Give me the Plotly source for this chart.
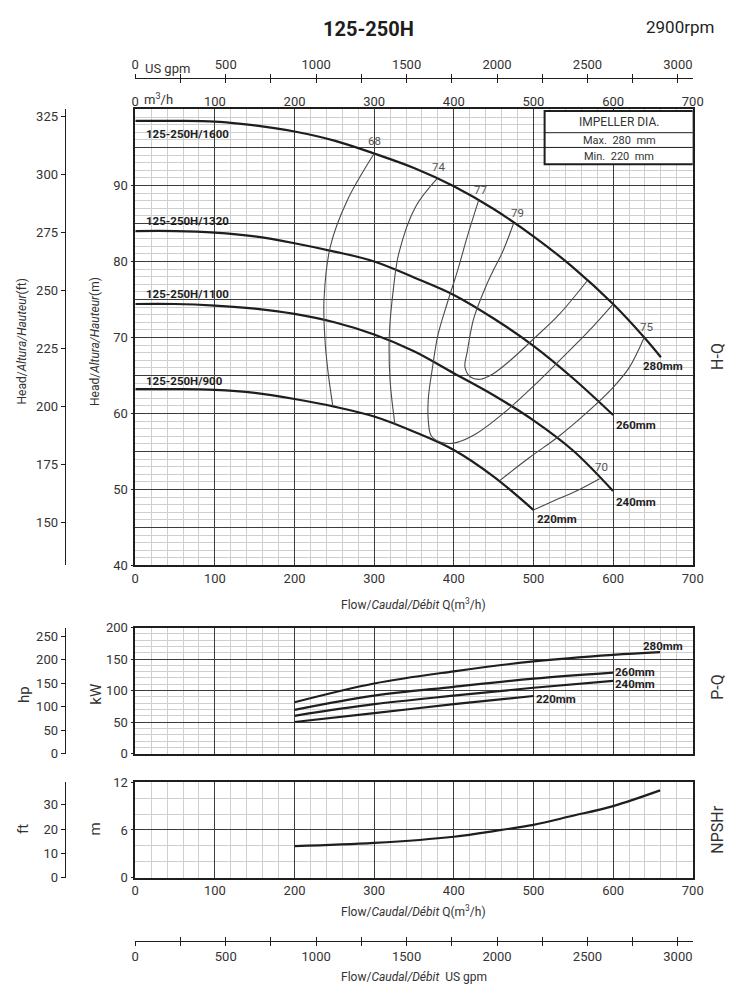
import plotly.graph_objects as go

W, H = 739, 1000
M2FT = 3.28084
KW2HP = 1.34102
M3H2GPM = 4.40287

# H-Q curves, flow in m3/h, head in m
q_280 = [0, 50, 100, 150, 200, 250, 300, 350, 400, 450, 500, 550, 600, 640, 660]
h_280 = [98.5, 98.5, 98.4, 97.9, 97.1, 95.9, 94.2, 92.3, 89.9, 86.9, 83.3, 79.2, 74.4, 69.9, 67.4]
q_260 = [0, 50, 100, 150, 200, 250, 300, 350, 400, 450, 500, 550, 600]
h_260 = [84.0, 84.0, 83.8, 83.3, 82.4, 81.3, 80.0, 77.9, 75.6, 72.5, 68.9, 64.6, 59.8]
q_240 = [0, 50, 100, 150, 200, 250, 300, 350, 400, 450, 500, 550, 600]
h_240 = [74.4, 74.4, 74.2, 73.8, 73.1, 72.0, 70.4, 68.2, 65.3, 62.4, 59.1, 55.1, 49.8]
q_220 = [0, 50, 100, 150, 200, 250, 300, 350, 400, 450, 500]
h_220 = [63.2, 63.2, 63.1, 62.7, 61.9, 60.9, 59.6, 57.6, 55.2, 51.7, 47.3]

# iso-efficiency lines
q_e68 = [300, 266, 245, 237, 238, 242, 248]
h_e68 = [94.2, 88.0, 82.0, 75.0, 70.0, 65.5, 61.0]
q_e74 = [379, 352, 331, 324, 319, 320, 326]
h_e74 = [90.9, 87.2, 81.1, 76.3, 70.3, 64.3, 58.6]
q_e77 = [431, 417, 405, 392, 380, 373, 368, 368, 372, 388, 404, 429, 462, 499, 532, 569, 600]
h_e77 = [88.0, 83.3, 78.9, 74.6, 70.3, 65.9, 62.0, 59.0, 57.0, 56.1, 56.2, 57.4, 60.0, 63.5, 66.9, 70.8, 74.4]
q_e79 = [475, 461, 450, 441, 425, 417, 414, 421, 433, 449, 470, 499, 532, 567]
h_e79 = [85.0, 81.2, 78.9, 76.9, 72.5, 68.2, 66.1, 64.8, 64.5, 65.2, 66.9, 69.7, 73.0, 77.4]
q_e75 = [458, 495, 532, 568, 598, 620, 639]
h_e75 = [51.2, 54.2, 57.0, 60.2, 63.2, 66.0, 70.0]
q_e70 = [500, 532, 556, 583]
h_e70 = [47.3, 48.8, 49.9, 51.4]

# P-Q curves, kW
q_p280 = [200, 300, 400, 500, 600, 659]
p_280 = [81.5, 111.3, 130.6, 146.3, 156.7, 161.0]
q_p260 = [200, 300, 400, 500, 600]
p_260 = [69.5, 92.0, 106.0, 119.0, 128.5]
q_p240 = [200, 300, 400, 500, 600]
p_240 = [60.0, 78.4, 92.0, 104.5, 115.5]
q_p220 = [200, 300, 400, 500]
p_220 = [50.2, 64.3, 78.4, 91.4]

# NPSHr, m
q_npsh = [200, 300, 400, 458, 500, 548, 600, 659]
npsh = [3.96, 4.37, 5.15, 5.98, 6.64, 7.75, 9.0, 10.97]

flow_ticks = [0, 100, 200, 300, 400, 500, 600, 700]
gpm_labels = [0, 500, 1000, 1500, 2000, 2500, 3000]
gpm_minor = list(range(0, 3001, 250))

FONT = 'Liberation Sans Narrow, Roboto, sans-serif'
INK = '#1e1e1e'
TXT = '#333333'
MAJOR = '#3c3c3c'
MINOR = '#cfcfcf'


def px(x):
    return x / W


def py(y):
    return 1 - y / H


X_DOM = [px(134), px(703)]

fig = go.Figure()

for q, h in [(q_280, h_280), (q_260, h_260), (q_240, h_240), (q_220, h_220)]:
    fig.add_trace(go.Scatter(x=q, y=h, mode='lines', xaxis='x', yaxis='y',
                             line=dict(color=INK, width=2.2, shape='spline'),
                             hoverinfo='skip', showlegend=False))

for q, h in [(q_e68, h_e68), (q_e74, h_e74), (q_e77, h_e77),
             (q_e79, h_e79), (q_e75, h_e75), (q_e70, h_e70)]:
    fig.add_trace(go.Scatter(x=q, y=h, mode='lines', xaxis='x', yaxis='y',
                             line=dict(color='#4a4a4a', width=1.1, shape='spline'),
                             hoverinfo='skip', showlegend=False))

for q, p in [(q_p280, p_280), (q_p260, p_260), (q_p240, p_240), (q_p220, p_220)]:
    fig.add_trace(go.Scatter(x=q, y=p, mode='lines', xaxis='x5', yaxis='y3',
                             line=dict(color=INK, width=2.2, shape='spline'),
                             hoverinfo='skip', showlegend=False))

fig.add_trace(go.Scatter(x=q_npsh, y=npsh, mode='lines', xaxis='x6', yaxis='y5',
                         line=dict(color=INK, width=2.2, shape='spline'),
                         hoverinfo='skip', showlegend=False))

# empty traces so that the extra scale axes get drawn
for xa, ya in [('x', 'y2'), ('x', 'y7'), ('x2', 'y'), ('x3', 'y'), ('x4', 'y'), ('x9', 'y'),
               ('x5', 'y4'), ('x6', 'y6'), ('x7', 'y5'), ('x8', 'y5'), ('x10', 'y5')]:
    fig.add_trace(go.Scatter(x=[], y=[], xaxis=xa, yaxis=ya, mode='lines',
                             hoverinfo='skip', showlegend=False))

tickfont = dict(family=FONT, size=13, color=TXT)


def grid_x(**kw):
    d = dict(domain=X_DOM, range=[0, 700], tickmode='linear', tick0=0, dtick=100,
             showgrid=True, gridcolor=MAJOR, gridwidth=1,
             minor=dict(tick0=0, dtick=20, showgrid=True, gridcolor=MINOR, gridwidth=1),
             showline=True, linecolor=INK, linewidth=1.5, mirror=True,
             zeroline=False, ticks='', tickfont=tickfont, fixedrange=True)
    d.update(kw)
    return d


def grid_y(**kw):
    d = dict(showgrid=True, gridcolor=MAJOR, gridwidth=1,
             showline=True, linecolor=INK, linewidth=1.5, mirror=True,
             zeroline=False, ticks='outside', ticklen=3, tickcolor=INK,
             tickfont=tickfont, fixedrange=True)
    d.update(kw)
    return d


def side_axis(**kw):
    d = dict(anchor='free', position=px(62), side='left',
             showgrid=False, zeroline=False, showline=True, linecolor=INK, linewidth=1.2,
             ticks='outside', ticklen=4, tickcolor=INK, tickfont=tickfont, fixedrange=True)
    d.update(kw)
    return d


def gpm_axis(vals, ticks, labels, line, **kw):
    d = dict(anchor='free', range=[0, 700 * M3H2GPM], tickmode='array', tickvals=vals,
             showgrid=False, zeroline=False, showline=line, linecolor=INK, linewidth=1.2,
             ticks=ticks, ticklen=4, tickcolor=INK, showticklabels=labels,
             tickfont=tickfont, fixedrange=True)
    d.update(kw)
    return d


fig.update_layout(
    width=W, height=H,
    margin=dict(l=0, r=0, t=0, b=0),
    paper_bgcolor='white', plot_bgcolor='white',
    font=dict(family=FONT, color=TXT),
    showlegend=False,
    # H-Q
    xaxis=grid_x(anchor='y'),
    yaxis=grid_y(domain=[py(567), py(104)], range=[40, 100], anchor='x',
                 tickmode='array', tickvals=list(range(40, 91, 10)),
                 minor=dict(tick0=0, dtick=1, showgrid=True, gridcolor=MINOR)),
    yaxis7=dict(overlaying='y', anchor='x', range=[40, 100], tickmode='array',
                tickvals=list(range(45, 96, 10)), showgrid=True, gridcolor=MAJOR,
                showticklabels=False, ticks='', showline=False, zeroline=False,
                fixedrange=True),
    yaxis2=side_axis(overlaying='y', range=[40 * M2FT, 100 * M2FT],
                     tickmode='array', tickvals=list(range(150, 326, 25))),
    xaxis2=dict(overlaying='x', anchor='y', side='top', range=[0, 700],
                tickmode='array', tickvals=flow_ticks,
                showgrid=False, zeroline=False, showline=False, ticks='',
                tickfont=tickfont, fixedrange=True),
    xaxis3=gpm_axis(gpm_labels, 'outside', True, True, overlaying='x', side='top',
                    position=py(72)),
    xaxis4=gpm_axis(gpm_minor, 'outside', False, False, overlaying='x', side='top',
                    position=py(72)),
    xaxis9=gpm_axis(gpm_minor, 'inside', False, False, overlaying='x', side='top',
                    position=py(72)),
    # P-Q
    xaxis5=grid_x(anchor='y3', showticklabels=False),
    yaxis3=grid_y(domain=[py(758), py(630)], range=[0, 200], anchor='x5',
                  tickmode='linear', tick0=0, dtick=50,
                  minor=dict(tick0=0, dtick=10, showgrid=True, gridcolor=MINOR)),
    yaxis4=side_axis(overlaying='y3', range=[0, 200 * KW2HP],
                     tickmode='linear', tick0=0, dtick=50),
    # NPSHr
    xaxis6=grid_x(anchor='y5'),
    yaxis5=grid_y(domain=[py(884), py(787)], range=[0, 12], anchor='x6',
                  tickmode='linear', tick0=0, dtick=6,
                  minor=dict(tick0=0, dtick=2, showgrid=True, gridcolor=MINOR)),
    yaxis6=side_axis(overlaying='y5', range=[0, 12 * M2FT],
                     tickmode='linear', tick0=0, dtick=10),
    xaxis7=gpm_axis(gpm_labels, 'outside', True, True, overlaying='x6', side='bottom',
                    position=py(948)),
    xaxis8=gpm_axis(gpm_minor, 'outside', False, False, overlaying='x6', side='bottom',
                    position=py(948)),
    xaxis10=gpm_axis(gpm_minor, 'inside', False, False, overlaying='x6', side='bottom',
                     position=py(948)),
)

ann = []


def paper_text(x, y, text, size=13, color=TXT, angle=0, xanchor='center', bold=False):
    if bold:
        text = '<b>' + text + '</b>'
    ann.append(dict(x=px(x), y=py(y), xref='paper', yref='paper', text=text,
                    showarrow=False, textangle=angle, xanchor=xanchor, yanchor='middle',
                    font=dict(family=FONT, size=size, color=color)))


def data_text(x, y, text, xr='x', yr='y', size=11.5, color=INK, xanchor='left', bold=True):
    if bold:
        text = '<b>' + text + '</b>'
    ann.append(dict(x=x, y=y, xref=xr, yref=yr, text=text, showarrow=False,
                    xanchor=xanchor, yanchor='middle',
                    font=dict(family=FONT, size=size, color=color)))


# titles
paper_text(372, 22, '125-250H', size=20, color=INK, bold=True)
paper_text(690, 20, '2900rpm', size=17, color=INK)
paper_text(142, 62, 'US gpm', size=13, xanchor='left')
paper_text(141, 93, 'm<sup>3</sup>/h', size=13, xanchor='left')

# axis titles
flow_q = 'Flow/<i>Caudal/Débit</i> Q(m<sup>3</sup>/h)'
paper_text(418, 606, flow_q, size=12)
paper_text(418, 918, flow_q, size=12)
paper_text(418, 985, 'Flow/<i>Caudal/Débit</i>  US gpm', size=12)
paper_text(18, 340, 'Head/<i>Altura/Hauteur</i>(ft)', size=12, angle=-90)
paper_text(93, 340, 'Head/<i>Altura/Hauteur</i>(m)', size=12, angle=-90)
paper_text(20, 698, 'hp', size=15, angle=-90)
paper_text(93, 698, 'kW', size=15, angle=-90)
paper_text(20, 835, 'ft', size=15, angle=-90)
paper_text(93, 835, 'm', size=15, angle=-90)
paper_text(728, 355, 'H-Q', size=16, angle=-90)
paper_text(728, 690, 'P-Q', size=16, angle=-90)
paper_text(728, 835, 'NPSHr', size=16, angle=-90)

# curve labels
data_text(11, 96.8, '125-250H/1600')
data_text(11, 85.3, '125-250H/1320')
data_text(11, 75.7, '125-250H/1100')
data_text(11, 64.25, '125-250H/900')
data_text(635, 66.3, '280mm')
data_text(601.5, 58.5, '260mm')
data_text(601.5, 48.4, '240mm')
data_text(502, 46.1, '220mm')
for q, h, t in [(301, 95.8, '68'), (381, 92.4, '74'), (434, 89.4, '77'),
                (480, 86.4, '79'), (642, 71.4, '75'), (585.5, 53.0, '70')]:
    data_text(q, h, t, size=11.5, color='#555555', xanchor='center', bold=False)

data_text(635, 170.3, '280mm', xr='x5', yr='y3')
data_text(600, 129.7, '260mm', xr='x5', yr='y3')
data_text(600, 111, '240mm', xr='x5', yr='y3')
data_text(500.7, 86, '220mm', xr='x5', yr='y3')

# impeller box
shapes = [
    dict(type='rect', xref='x', yref='y', x0=514, x1=701, y0=92.8, y1=99.8,
         fillcolor='white', line=dict(color=INK, width=2), layer='above'),
    dict(type='line', xref='x', yref='y', x0=514, x1=701, y0=96.94, y1=96.94,
         line=dict(color=INK, width=1), layer='above'),
    dict(type='line', xref='x', yref='y', x0=514, x1=701, y0=95.0, y1=95.0,
         line=dict(color=INK, width=1), layer='above'),
]
data_text(608, 98.37, 'IMPELLER DIA.', size=12, color=TXT, xanchor='center', bold=False)
data_text(608, 95.95, 'Max.  280  mm', size=11, color=TXT, xanchor='center', bold=False)
data_text(608, 93.85, 'Min.  220  mm', size=11, color=TXT, xanchor='center', bold=False)

fig.update_layout(annotations=ann, shapes=shapes)

# drop the default page margin so the 739x1000 figure fills the window exactly
fig.write_html("out.html", config={'displayModeBar': False},
               post_script="document.body.style.margin='0';"
                           "document.body.style.overflow='hidden';")
